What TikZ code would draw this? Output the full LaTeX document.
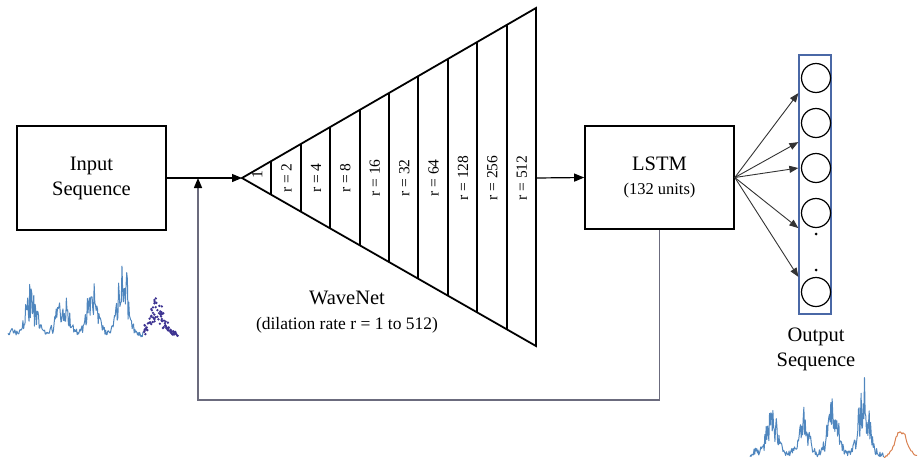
\documentclass[tikz,border=0pt]{standalone}
\usepackage{fontspec}
\setmainfont{Liberation Serif}
\usetikzlibrary{positioning,calc,arrows.meta}

\definecolor{seriesblue}{HTML}{4F86BE}
\definecolor{scatterpurple}{HTML}{3D3391}
\definecolor{forecastorange}{HTML}{D9804F}
\definecolor{colblue}{HTML}{4A68A6}
\definecolor{loopgray}{HTML}{6B6B7D}

\newcommand{\boxfont}{\fontsize{20.5}{25}\selectfont}
\newcommand{\ratefont}{\fontsize{15.5}{17}\selectfont}

\begin{document}
\begin{tikzpicture}[x=1pt, y=-1pt, >={Triangle[length=10pt,width=8pt]},
    box/.style={draw, line width=1.6pt, minimum width=149pt, minimum height=104pt, align=center, font=\boxfont},
    flow/.style={line width=1.2pt},
    fb/.style={line width=1.5pt, draw=loopgray, -{Triangle[length=10pt,width=8pt,color=black]}},
    outarrow/.style={line width=0.9pt, draw=black!80, -{Triangle[length=9pt,width=7pt]}},
    unit/.style={circle, draw, line width=1.2pt, minimum size=29pt, inner sep=0pt}]
      \useasboundingbox (0,0) rectangle (920,466);

      % Define the coordinates
      \coordinate (apex) at (242,178);
      \coordinate (top) at (536,8);
      \coordinate (bot) at (536,346);
      \coordinate (wout) at (536,178);
      \coordinate (join) at (198,178);
      \coordinate (loop) at (198,400);

      % Draw the boxes
      \node[box] (input) at (91.5,178) {Input\\Sequence};
      \node[box, minimum height=103pt] (lstm) at (659.5,177.5)
      {LSTM\\[-1pt]{\fontsize{16.5}{19}\selectfont (132 units)}};

      % Draw the WaveNet triangle
      \draw[line width=1.8pt, line join=miter] (apex) -- (top) -- (bot) -- cycle;
      \foreach \i in {1,...,9} {
        \pgfmathsetmacro\t{(round(242+29.4*\i)-242)/294}
        \draw[line width=1.8pt] ($(apex)!\t!(top)$) -- ($(apex)!\t!(bot)$);
      }
      \node[rotate=90, font=\ratefont, inner sep=0pt] (r0) at (257.2,175) {1};
      \foreach \i [evaluate=\i as \r using int(2^\i)] in {1,...,9}
        \node[rotate=90, font=\ratefont, inner sep=0pt] (r\i) at (257.2+29.4*\i,178) {r = \r};
      \node[font=\boxfont] (wavenet) at (347,298) {WaveNet};
      \node[font=\fontsize{17.5}{20}\selectfont] (dilation) at (347,325) {(dilation rate r = 1 to 512)};

      % Draw the connections
      \draw[flow, ->] (input.east) -- (apex);
      \draw[flow, ->] (wout) -- (lstm.west);
      \draw[fb] (lstm.south) |- (loop) -- (join);

      % Draw the output layer
      \node[draw=colblue, line width=1.3pt, minimum width=32pt, minimum height=259pt] (col) at (815,184.5) {};
      \node[unit] (c1) at (816,78) {};
      \node[unit] (c2) at (816,123) {};
      \node[unit] (c3) at (816,168) {};
      \node[unit] (c4) at (816,213) {};
      \node[unit] (c5) at (816,292) {};
      \fill (816,234) circle[radius=1.5pt];
      \fill (816,270) circle[radius=1.5pt];
      \draw[outarrow] (lstm.east) -- (col.west |- c1.south);
      \draw[outarrow] (lstm.east) -- ([yshift=-4pt]col.west |- c2.south);
      \draw[outarrow] (lstm.east) -- (col.west |- c3);
      \draw[outarrow] (lstm.east) -- (col.west |- c4.south);
      \draw[outarrow] (lstm.east) -- (col.west |- c5.north);
      \node[font=\boxfont, align=center] (output) at (816,349) {Output\\Sequence};

      % Draw the input series
      \pgfmathsetseed{11}
      \draw[seriesblue, line width=1pt, line join=round] plot[domain=8:143, samples=200]
        (\x, {337 - (8*exp(max(-9,-((\x-13)/3)^2)) + 50*exp(max(-9,-((\x-31)/8)^2))
          + 52*exp(max(-9,-((\x-62)/8)^2)) + 62*exp(max(-9,-((\x-92)/8)^2))
          + 78*exp(max(-9,-((\x-123)/7.5)^2)))*(0.25+0.75*rnd) - 5*rnd});
      \foreach \k in {1,...,90} {
        \pgfmathsetmacro\sx{144+34*rnd}
        \pgfmathsetmacro\sy{338 - 40*exp(max(-9,-((\sx-157)/10)^2))*(0.3+0.7*rnd) - 5*rnd}
        \fill[scatterpurple] (\sx,\sy) circle[radius=1.3pt];
      }

      % Draw the output series
      \draw[seriesblue, line width=1pt, line join=round] plot[domain=750:884, samples=200]
        (\x, {458 - (8*exp(max(-9,-((\x-755)/3)^2)) + 48*exp(max(-9,-((\x-772)/8)^2))
          + 50*exp(max(-9,-((\x-803)/8)^2)) + 62*exp(max(-9,-((\x-833)/8)^2))
          + 78*exp(max(-9,-((\x-864)/7.5)^2)))*(0.25+0.75*rnd) - 5*rnd});
      \draw[forecastorange, line width=1pt, line join=round] plot[domain=884:917, samples=34]
        (\x, {458 - 28*exp(max(-9,-((\x-901)/8.5)^2))*(0.85+0.15*rnd) - 2*rnd});
    \end{tikzpicture}
\end{document}
